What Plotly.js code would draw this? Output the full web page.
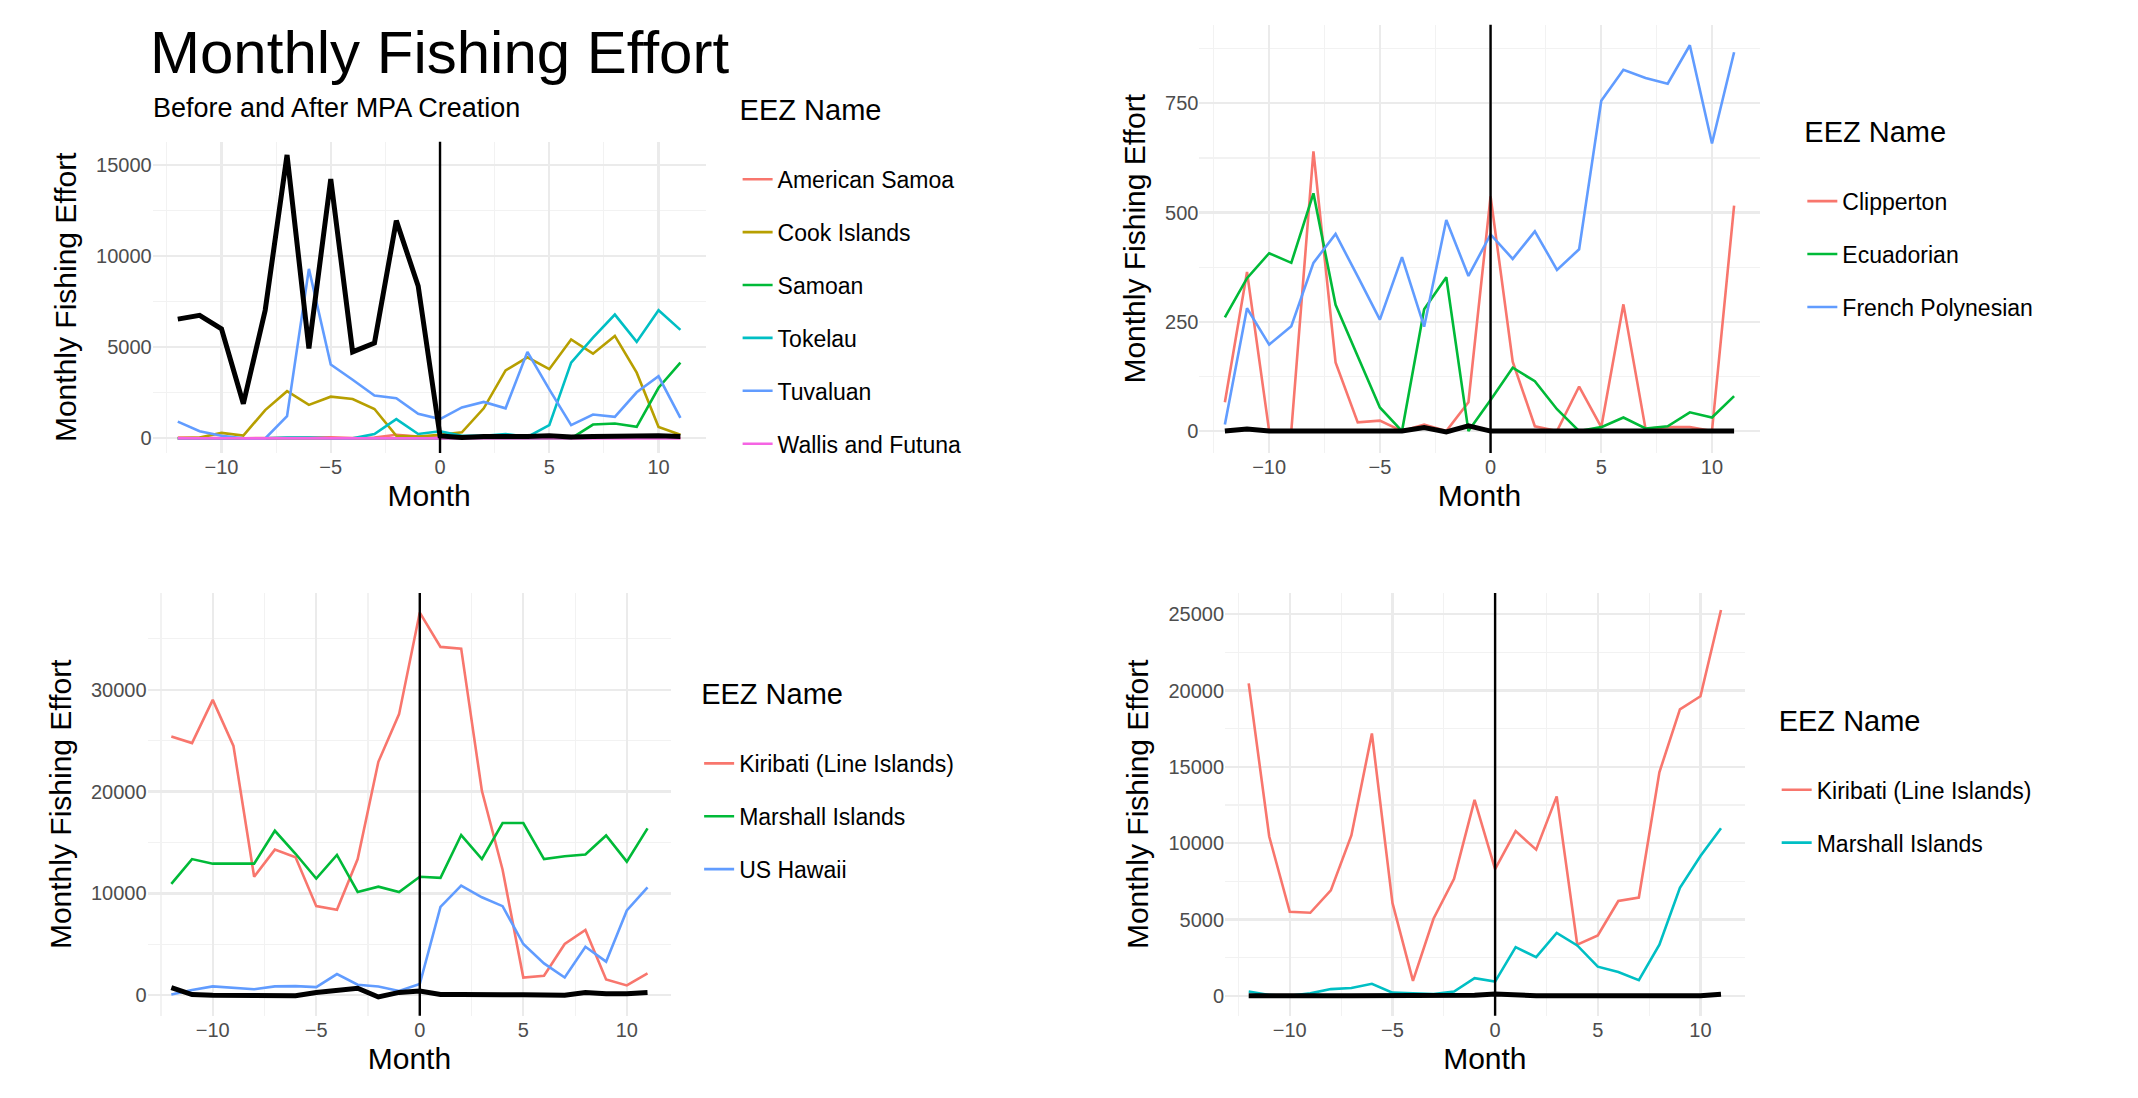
<!DOCTYPE html>
<html>
<head>
<meta charset="utf-8">
<script src="https://cdn.plot.ly/plotly-3.0.1.min.js"></script>
<style>html,body{margin:0;padding:0;background:#fff}#chart{width:2138px;height:1098px}</style>
</head>
<body>
<div id="chart"></div>
<script>
const months = [-12,-11,-10,-9,-8,-7,-6,-5,-4,-3,-2,-1,0,1,2,3,4,5,6,7,8,9,10,11];

// Panel 1
const p1Total = [6550,6760,6020,1900,7040,15570,4940,14250,4750,5240,11960,8370,130,50,100,80,100,150,80,100,120,100,150,100];
const p1AmericanSamoa = [50,30,20,10,20,30,40,60,20,40,200,100,50,60,80,40,60,50,20,30,40,30,50,20];
const p1Cook = [0,50,300,150,1550,2590,1840,2290,2160,1610,140,100,200,330,1650,3730,4450,3800,5430,4650,5630,3610,630,200];
const p1Samoan = [0,0,0,0,0,0,0,0,0,0,0,0,0,0,0,0,0,0,0,760,820,630,2780,4160];
const p1Tokelau = [0,0,0,0,0,50,50,0,0,240,1060,240,390,140,140,240,80,730,4160,5530,6800,5300,7040,5960];
const p1Tuvaluan = [920,390,140,0,0,1220,9310,4060,3220,2350,2200,1350,1060,1700,2000,1650,4750,2690,730,1310,1180,2530,3410,1120];
const p1Wallis = [0,0,0,0,0,0,0,0,0,0,0,0,0,0,0,0,0,0,0,0,0,0,0,0];

// Panel 2
const p2Total = [0,5,0,0,0,0,0,0,0,8,-2,12,0,0,0,0,0,0,0,0,0,0,0,0];
const p2Clipperton = [66,364,0,0,640,157,20,24,0,15,0,66,537,159,11,0,102,9,290,5,9,9,0,516];
const p2Ecuadorian = [260,350,407,385,544,289,171,54,0,279,352,0,71,145,114,50,0,9,31,6,11,43,31,80];
const p2FrenchPoly = [15,281,198,240,385,451,354,255,398,239,483,355,450,394,457,369,416,756,827,808,795,883,658,867];

// Panel 3
const p3Total = [760,70,0,-30,-30,-30,-50,280,520,690,-170,280,420,70,70,0,50,50,0,0,280,150,150,280];
const p3Kiribati = [25400,24760,29000,24480,11630,14300,13540,8750,8400,13370,22920,27600,37570,34200,34030,20070,12330,1740,1910,5030,6420,1560,970,2150];
const p3Marshall = [10940,13370,12920,12920,12920,16150,13890,11460,13780,10140,10660,10140,11630,11530,15730,13370,16910,16910,13370,13650,13820,15690,13120,16390];
const p3Hawaii = [70,520,870,760,590,870,900,800,2080,1040,870,420,1110,8680,10760,9620,8750,5030,3130,1740,4760,3300,8330,10590];

// Panel 4
const p4Total = [0,20,0,0,0,0,0,0,0,0,20,40,120,20,0,0,0,0,60,40,60,0,0,100];
const p4Kiribati = [20470,10440,5510,5440,6910,10510,17190,6090,980,5050,7670,12840,8300,10790,9580,13070,3350,3950,6210,6440,14650,18770,19630,25280];
const p4Marshall = [280,50,0,160,440,510,790,210,160,120,280,1160,930,3190,2530,4120,3300,1910,1560,1020,3350,7070,9160,10980];

const FONT = 'Liberation Sans, Arial, sans-serif';
const traces = [];
function line(y, name, color, ax, leg) {
  traces.push({x: months, y, name, type: 'scatter', mode: 'lines',
    line: {color, width: 2.6}, xaxis: 'x' + ax, yaxis: 'y' + ax,
    legend: leg, legendgroup: name + ax});
}
function total(y, ax) {
  traces.push({x: months, y, type: 'scatter', mode: 'lines', showlegend: false,
    line: {color: '#000', width: 5}, xaxis: 'x' + ax, yaxis: 'y' + ax});
}

line(p1AmericanSamoa, 'American Samoa', '#F8766D', 1, 'legend');
line(p1Cook, 'Cook Islands', '#B79F00', 1, 'legend');
line(p1Samoan, 'Samoan', '#00BA38', 1, 'legend');
line(p1Tokelau, 'Tokelau', '#00BFC4', 1, 'legend');
line(p1Tuvaluan, 'Tuvaluan', '#619CFF', 1, 'legend');
line(p1Wallis, 'Wallis and Futuna', '#F564E3', 1, 'legend');
total(p1Total, 1);

line(p2Clipperton, 'Clipperton', '#F8766D', 2, 'legend2');
line(p2Ecuadorian, 'Ecuadorian', '#00BA38', 2, 'legend2');
line(p2FrenchPoly, 'French Polynesian', '#619CFF', 2, 'legend2');
total(p2Total, 2);

line(p3Kiribati, 'Kiribati (Line Islands)', '#F8766D', 3, 'legend3');
line(p3Marshall, 'Marshall Islands', '#00BA38', 3, 'legend3');
line(p3Hawaii, 'US Hawaii', '#619CFF', 3, 'legend3');
total(p3Total, 3);

line(p4Kiribati, 'Kiribati (Line Islands)', '#F8766D', 4, 'legend4');
line(p4Marshall, 'Marshall Islands', '#00BFC4', 4, 'legend4');
total(p4Total, 4);

function xax(dom, anchor) {
  return {domain: dom, anchor, range: [-13.15, 12.15], dtick: 5, tick0: 0,
    showgrid: true, gridcolor: '#EBEBEB', gridwidth: 2.2, zeroline: false, showline: false, ticks: '',
    minor: {dtick: 2.5, tick0: 0, showgrid: true, gridcolor: '#F2F2F2', gridwidth: 1.1},
    tickfont: {size: 20, color: '#4D4D4D', family: FONT},
    title: {text: 'Month', font: {size: 30, color: '#000', family: FONT}, standoff: 8}};
}
function yax(dom, anchor, range, dtick) {
  return {domain: dom, anchor, range, dtick, tick0: 0, tickformat: 'd',
    showgrid: true, gridcolor: '#EBEBEB', gridwidth: 2.2, zeroline: false, showline: false, ticks: '',
    minor: {dtick: dtick / 2, tick0: 0, showgrid: true, gridcolor: '#F2F2F2', gridwidth: 1.1},
    tickfont: {size: 20, color: '#4D4D4D', family: FONT},
    title: {text: 'Monthly Fishing Effort', font: {size: 30, color: '#000', family: FONT}, standoff: 10}};
}
function leg(x, y) {
  return {x, y, xanchor: 'left', yanchor: 'top', bgcolor: 'rgba(0,0,0,0)',
    font: {size: 23, family: FONT, color: '#000'}, tracegroupgap: 20, traceorder: 'grouped',
    itemwidth: 30, title: {text: 'EEZ Name<br><span style="font-size:8px"> </span>', font: {size: 29, family: FONT, color: '#000'}}};
}
function vline(ax) {
  return {type: 'line', xref: 'x' + ax, yref: 'y' + ax + ' domain', x0: 0, x1: 0, y0: 0, y1: 1,
    line: {color: '#000', width: 2.4}};
}

const layout = {
  width: 2138, height: 1098, margin: {l: 0, r: 0, t: 0, b: 0},
  paper_bgcolor: '#fff', plot_bgcolor: '#fff', font: {family: FONT},
  xaxis1: xax([0.0714, 0.330], 'y1'), yaxis1: yax([0.5875, 0.871], 'x1', [-800, 16300], 5000),
  xaxis2: xax([0.561, 0.823], 'y2'), yaxis2: yax([0.5875, 0.9775], 'x2', [-50, 930], 250),
  xaxis3: xax([0.069, 0.314], 'y3'), yaxis3: yax([0.075, 0.46], 'x3', [-2000, 39500], 10000),
  xaxis4: xax([0.573, 0.816], 'y4'), yaxis4: yax([0.075, 0.46], 'x4', [-1300, 26400], 5000),
  legend: leg(0.345, 0.925), legend2: leg(0.843, 0.905),
  legend3: leg(0.327, 0.393), legend4: leg(0.831, 0.369),
  shapes: [vline(1), vline(2), vline(3), vline(4)],
  annotations: [
    {text: 'Monthly Fishing Effort', xref: 'paper', yref: 'paper', x: 0.069, y: 0.952,
     xanchor: 'left', yanchor: 'middle', showarrow: false, font: {size: 60, family: FONT, color: '#000'}},
    {text: 'Before and After MPA Creation', xref: 'paper', yref: 'paper', x: 0.0705, y: 0.902,
     xanchor: 'left', yanchor: 'middle', showarrow: false, font: {size: 27, family: FONT, color: '#000'}}
  ]
};

Plotly.newPlot('chart', traces, layout, {staticPlot: true});
</script>
</body>
</html>
